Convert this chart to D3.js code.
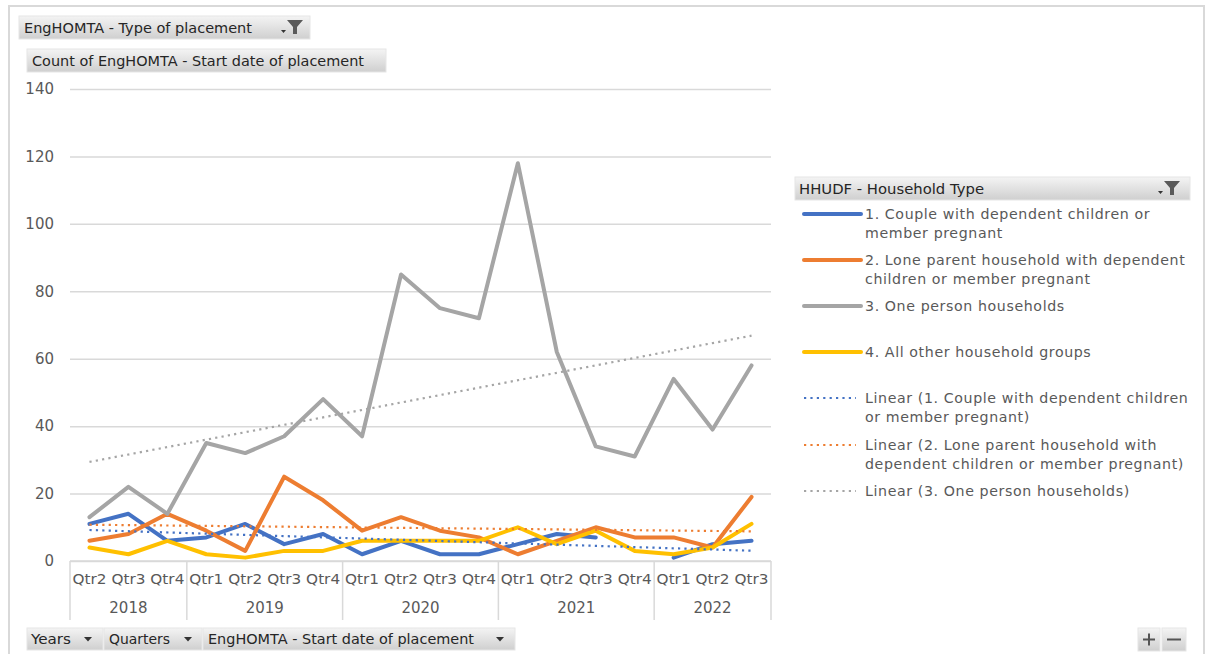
<!DOCTYPE html>
<html>
<head>
<meta charset="utf-8">
<script src="https://cdn.jsdelivr.net/npm/d3@7"></script>
<style>
  html, body { margin: 0; padding: 0; background: #fff; }
  svg { display: block; }
</style>
</head>
<body>
<svg id="chart" width="1205" height="654"></svg>
<script>
// ---- data ----
const years = ["2018", "2019", "2020", "2021", "2022"];
const quartersPerYear = [["Qtr2","Qtr3","Qtr4"],["Qtr1","Qtr2","Qtr3","Qtr4"],["Qtr1","Qtr2","Qtr3","Qtr4"],["Qtr1","Qtr2","Qtr3","Qtr4"],["Qtr1","Qtr2","Qtr3"]];
const seriesNames = [
  "1. Couple with dependent children or member pregnant",
  "2. Lone parent household with dependent children or member pregnant",
  "3. One person households",
  "4. All other household groups"
];
const couple    = [11,14,6,7,11,5,8,2,6,2,2,5,8,7,null,1,5,6];
const loneParent= [6,8,14,9,3,25,18,9,13,9,7,2,6,10,7,7,4,19];
const onePerson = [13,22,14,35,32,37,48,37,85,75,72,118,62,34,31,54,39,58];
const allOther  = [4,2,6,2,1,3,3,6,6,6,6,10,5,9,3,2,4,11];
const yTicks = [0,20,40,60,80,100,120,140];
const legendLabels = [
  ["1. Couple with dependent children or", "member pregnant"],
  ["2. Lone parent household with dependent", "children or member pregnant"],
  ["3. One person households"],
  ["4. All other household groups"],
  ["Linear (1. Couple with dependent children", "or member pregnant)"],
  ["Linear (2. Lone parent household with", "dependent children or member pregnant)"],
  ["Linear (3. One person households)"]
];

const colors = ["#4472C4", "#ED7D31", "#A5A5A5", "#FFC000"];
const seriesData = [couple, loneParent, onePerson, allOther];

// categories
const cats = [];
years.forEach((y, i) => quartersPerYear[i].forEach(q => cats.push({year: y, q: q, key: y + "-" + q})));

const svg = d3.select("#chart");
const font = "'DejaVu Sans', Verdana, sans-serif";

// defs
const defs = svg.append("defs");
const grad = defs.append("linearGradient").attr("id", "btn").attr("x1", 0).attr("y1", 0).attr("x2", 0).attr("y2", 1);
grad.append("stop").attr("offset", "0%").attr("stop-color", "#f4f4f4");
grad.append("stop").attr("offset", "100%").attr("stop-color", "#cfcfcf");

// outer frame
svg.append("path").attr("d", "M9,654 L9,6 L1204,6 L1204,654")
  .attr("fill", "none").attr("stroke", "#d9d9d9").attr("stroke-width", 2);

// scales
const x = d3.scaleBand().domain(cats.map(c => c.key)).range([70, 771]).paddingInner(0).paddingOuter(0);
const y = d3.scaleLinear().domain([0, 140]).range([561, 89]);
const cx = k => x(k) + x.bandwidth() / 2;

// gridlines via axis
const yAxis = d3.axisLeft(y).tickValues(yTicks).tickSize(-(771 - 70)).tickPadding(16);
const gy = svg.append("g").attr("transform", "translate(70,0)").call(yAxis);
gy.select(".domain").remove();
gy.selectAll(".tick line").attr("stroke", "#d9d9d9").attr("stroke-width", 1.5);
gy.selectAll(".tick text").attr("fill", "#595959").attr("font-family", font).attr("font-size", 15);

// category axis (multi-level)
const axG = svg.append("g");
axG.append("line").attr("x1", 70).attr("x2", 771).attr("y1", y(0)).attr("y2", y(0))
  .attr("stroke", "#d9d9d9").attr("stroke-width", 1.5);
let idx = 0;
years.forEach((yr, i) => {
  const first = cats[idx].key;
  const last = cats[idx + quartersPerYear[i].length - 1].key;
  const x0 = x(first), x1 = x(last) + x.bandwidth();
  axG.append("line").attr("x1", x0).attr("x2", x0).attr("y1", y(0)).attr("y2", 620)
    .attr("stroke", "#d9d9d9").attr("stroke-width", 1.5);
  if (i === years.length - 1) {
    axG.append("line").attr("x1", x1).attr("x2", x1).attr("y1", y(0)).attr("y2", 620)
      .attr("stroke", "#d9d9d9").attr("stroke-width", 1.5);
  }
  axG.append("text").attr("x", (x0 + x1) / 2).attr("y", 613).attr("text-anchor", "middle")
    .attr("font-family", font).attr("font-size", 15).attr("fill", "#595959").text(yr);
  idx += quartersPerYear[i].length;
});
axG.selectAll("text.q").data(cats).enter().append("text").attr("class", "q")
  .attr("x", d => cx(d.key)).attr("y", 584).attr("text-anchor", "middle")
  .attr("font-family", font).attr("font-size", 14.5).attr("fill", "#595959")
  .attr("textLength", 34).attr("lengthAdjust", "spacingAndGlyphs")
  .text(d => d.q);

// trend lines (least squares, Excel style — skip blanks)
function trend(vals) {
  const pts = vals.map((v, i) => [i + 1, v]).filter(p => p[1] != null);
  const mx = d3.mean(pts, p => p[0]), my = d3.mean(pts, p => p[1]);
  const sxy = d3.sum(pts, p => (p[0] - mx) * (p[1] - my));
  const sxx = d3.sum(pts, p => (p[0] - mx) ** 2);
  const b = sxy / sxx, a = my - b * mx;
  return vals.map((v, i) => a + b * (i + 1));
}
const trendIdx = [0, 1, 2];
const lineGen = d3.line().defined(d => d.v != null).x(d => cx(d.k)).y(d => y(d.v));

seriesData.forEach((vals, s) => {
  svg.append("path")
    .datum(vals.map((v, i) => ({k: cats[i].key, v: v})))
    .attr("fill", "none").attr("stroke", colors[s]).attr("stroke-width", 4)
    .attr("stroke-linejoin", "round").attr("stroke-linecap", "round")
    .attr("d", lineGen);
});
trendIdx.forEach(s => {
  const t = trend(seriesData[s]);
  const tl = d3.line().x(d => cx(d.k)).y(d => y(d.v));
  const pts = [{k: cats[0].key, v: t[0]}, {k: cats[cats.length - 1].key, v: t[t.length - 1]}];
  svg.append("path").datum(pts)
    .attr("fill", "none").attr("stroke", colors[s]).attr("stroke-width", 2.2)
    .attr("stroke-dasharray", "2.2,4.2")
    .attr("d", tl);
});

// button helper
function button(x0, y0, w, h, label, tx, tl, fs, color) {
  const g = svg.append("g");
  g.append("rect").attr("x", x0).attr("y", y0).attr("width", w).attr("height", h)
    .attr("fill", "url(#btn)").attr("stroke", "#e6e6e6").attr("stroke-width", 1);
  const t = g.append("text").attr("x", tx).attr("y", y0 + h / 2 + 5)
    .attr("font-family", font).attr("font-size", fs).attr("fill", color || "#262626").text(label);
  if (tl) t.attr("textLength", tl).attr("lengthAdjust", "spacingAndGlyphs");
  return g;
}
function funnel(xc, yc) {
  svg.append("path").attr("d", `M${xc-8},${yc-7} L${xc+8},${yc-7} L${xc+2},${yc} L${xc+2},${yc+7} L${xc-2},${yc+7} L${xc-2},${yc} Z`)
    .attr("fill", "#5a5a5a");
  svg.append("path").attr("d", `M${xc-14},${yc+3} L${xc-9},${yc+3} L${xc-11.5},${yc+6} Z`).attr("fill", "#333");
}
function arrow(xc, yc) {
  svg.append("path").attr("d", `M${xc-4},${yc-2} L${xc+4},${yc-2} L${xc},${yc+2.5} Z`).attr("fill", "#333");
}

button(19, 16, 291, 23, "EngHOMTA - Type of placement", 24, 228, 13.5);
funnel(295, 27);
button(27, 49, 359, 23, "Count of EngHOMTA - Start date of placement", 32, 332, 13.5);

// legend
button(795, 177, 395, 23, "HHUDF - Household Type", 799, 185, 14.5);
funnel(1172, 188);

const legendY = [214, 260, 306, 352, 398, 445, 491];
const legendColor = [colors[0], colors[1], colors[2], colors[3], colors[0], colors[1], colors[2]];
const lg = svg.append("g");
legendLabels.forEach((lines, i) => {
  const yy = legendY[i];
  const dotted = i >= 4;
  lg.append("line").attr("x1", 804).attr("x2", dotted ? 856 : 861).attr("y1", yy).attr("y2", yy)
    .attr("stroke", legendColor[i]).attr("stroke-width", dotted ? 2.2 : 4)
    .attr("stroke-dasharray", dotted ? "2.2,4.2" : null)
    .attr("stroke-linecap", dotted ? "butt" : "round");
  lines.forEach((ln, j) => {
    lg.append("text").attr("x", 865).attr("y", yy + 5 + j * 18.5)
      .attr("font-family", font).attr("font-size", 14.2).attr("letter-spacing", 0.6)
      .attr("fill", "#595959").text(ln);
  });
});

// bottom field buttons
button(27, 628, 76, 22, "Years", 31, 40, 14);
arrow(88, 639);
button(104, 628, 98, 22, "Quarters", 109, 61, 14);
arrow(188, 639);
button(203, 628, 312, 22, "EngHOMTA - Start date of placement", 208, 266, 14);
arrow(500, 639);

// zoom +/- buttons
button(1138, 628, 22, 23, "", 0, null, 14);
button(1162, 628, 24, 23, "", 0, null, 14);
svg.append("path").attr("d", "M1143,639.5 L1155,639.5 M1149,633.5 L1149,645.5").attr("stroke", "#555").attr("stroke-width", 2);
svg.append("path").attr("d", "M1167,639.5 L1181,639.5").attr("stroke", "#555").attr("stroke-width", 2);
</script>
</body>
</html>
